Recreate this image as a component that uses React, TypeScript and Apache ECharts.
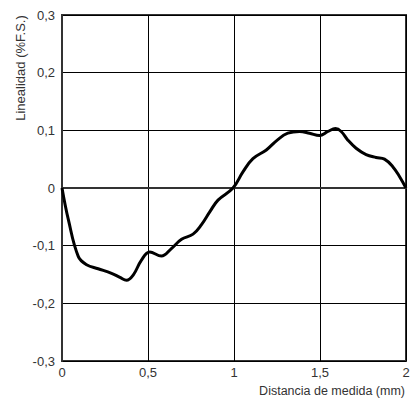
import React, { useEffect, useRef } from "react";
import * as echarts from "echarts";

const xValues = [0, 0.037, 0.095, 0.143, 0.21, 0.288, 0.337, 0.375, 0.414, 0.462, 0.51, 0.578, 0.636, 0.695, 0.762, 0.81, 0.86, 0.907, 0.994, 1.052, 1.11, 1.188, 1.255, 1.313, 1.381, 1.439, 1.497, 1.546, 1.59, 1.623, 1.662, 1.71, 1.768, 1.826, 1.875, 1.923, 1.962, 2.0];
const yValues = [0, -0.055, -0.119, -0.133, -0.14, -0.148, -0.155, -0.16, -0.151, -0.125, -0.111, -0.118, -0.105, -0.089, -0.08, -0.064, -0.041, -0.021, 0, 0.028, 0.051, 0.066, 0.084, 0.095, 0.098, 0.095, 0.091, 0.098, 0.103, 0.098, 0.083, 0.069, 0.058, 0.053, 0.05, 0.037, 0.02, 0];
const yAxisTitle = "Linealidad (%F.S.)";
const xAxisTitle = "Distancia de medida (mm)";

const fmt = (v: number) => String(Math.round(v * 10) / 10).replace(".", ",");

export default function App() {
  const ref = useRef<HTMLDivElement>(null);
  useEffect(() => {
    document.body.style.margin = "0";
    const chart = echarts.init(ref.current!, null, { renderer: "svg" });
    const font = "Liberation Sans, Arial, sans-serif";
    chart.setOption({
      animation: false,
      backgroundColor: "#fff",
      grid: { left: 62, top: 15, width: 344, height: 346, show: true, borderColor: "#333", borderWidth: 2, backgroundColor: "transparent" },
      xAxis: {
        type: "value", min: 0, max: 2, interval: 0.5,
        axisLine: { show: true, lineStyle: { color: "#333", width: 2 } },
        axisTick: { show: false },
        splitLine: { show: true, lineStyle: { color: "#000", width: 1 } },
        axisLabel: { formatter: fmt, color: "#333", fontSize: 13, fontFamily: font, margin: 5 },
      },
      yAxis: {
        type: "value", min: -0.3, max: 0.3, interval: 0.1,
        axisLine: { show: true, lineStyle: { color: "#333", width: 2 } },
        axisTick: { show: false },
        splitLine: { show: true, lineStyle: { color: "#000", width: 1 } },
        axisLabel: { formatter: fmt, color: "#333", fontSize: 13, fontFamily: font, margin: 7 },
      },
      series: [{
        type: "line",
        data: xValues.map((x, i) => [x, yValues[i]]),
        smooth: 0.4,
        showSymbol: false,
        lineStyle: { color: "#000", width: 3 },
      }],
      graphic: [
        { type: "text", x: 20, y: 68, rotation: Math.PI / 2, style: { text: yAxisTitle, fill: "#333", fontSize: 13, fontFamily: font, align: "center", verticalAlign: "middle" } },
        { type: "text", x: 405, y: 391, style: { text: xAxisTitle, fill: "#333", fontSize: 12.5, fontFamily: font, align: "right", verticalAlign: "middle" } },
      ],
    });
    return () => chart.dispose();
  }, []);
  return <div ref={ref} style={{ width: 414, height: 408 }} />;
}
